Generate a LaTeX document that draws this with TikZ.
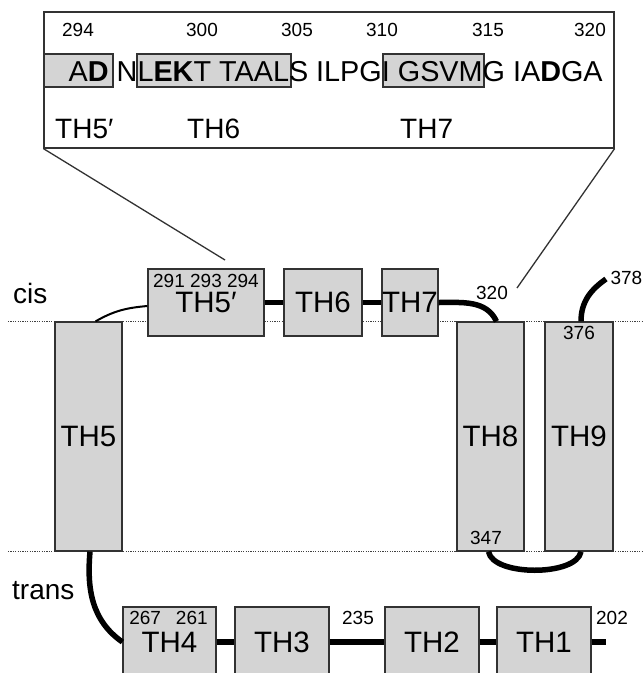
\documentclass[tikz,border=0pt]{standalone}
\usepackage{fontspec}
\setmainfont{Liberation Sans}
\usetikzlibrary{positioning}
\definecolor{tmgray}{RGB}{212,212,212}
\definecolor{tmline}{RGB}{50,50,50}
\newcommand{\thfont}{\fontsize{29.5}{32}\selectfont}
\newcommand{\lblfont}{\fontsize{28}{30}\selectfont}
\newcommand{\numfont}{\fontsize{19}{21}\selectfont}
\newcommand{\seqfont}{\fontsize{28.8}{31}\selectfont}
\begin{document}
\begin{tikzpicture}[x=1pt,y=-1pt,
tm/.style={draw=tmline,line width=1.2pt,fill=tmgray,inner sep=0pt,font=\thfont},
tmup/.style={tm,minimum width=67pt,minimum height=229pt},
tmcis/.style={tm,minimum height=67pt},
tmlo/.style={tm,minimum width=94pt,minimum height=70pt},
hl/.style={draw=tmline,line width=1.2pt,fill=tmgray},
numlbl/.style={inner sep=0pt,font=\numfont},
txtlbl/.style={anchor=base west,inner sep=0pt,font=\lblfont},
linker/.style={line width=5.5pt},
tether/.style={line width=2pt},
membrane/.style={black!75,line width=1pt,dash pattern=on 1.2pt off 1.2pt}]
\useasboundingbox (0,0) rectangle (643,673);

% membrane boundaries
\draw[membrane] (8,321.5) -- (643,321.5);
\draw[membrane] (8,551.5) -- (643,551.5);
\node[txtlbl] (cis) at (13,303) {cis};
\node[txtlbl] (trans) at (12,599) {trans};

% zoomed sequence
\node[draw=tmline,line width=1.2pt,minimum width=570pt,minimum height=136pt,inner sep=0pt] (zoombox) at (329,80) {};
\draw[hl] (44,54) rectangle (113,87);
\draw[hl] (137,54) rectangle (291,87);
\draw[hl] (383,54) rectangle (484,87);
\node[anchor=base west,inner sep=0pt,font=\seqfont] (seq) at (68.5,81.5)
  {A\textbf{D} NL\textbf{EK}T TAALS ILPGI GSVMG IA\textbf{D}GA};
\foreach \n/\x in {294/78,300/202,305/297,310/382,315/488,320/590}
  \node[numlbl] (res\n) at (\x,30) {\n};
\node[txtlbl] (z5p) at (55,138) {TH5′};
\node[txtlbl] (z6) at (187,138) {TH6};
\node[txtlbl] (z7) at (400,138) {TH7};

% helices
\node[tmup] (th5) at (88.5,436.5) {TH5};
\node[tmcis,minimum width=116pt] (th5p) at (206,302.5) {TH5′};
\node[tmcis,minimum width=78pt] (th6) at (323,302.5) {TH6};
\node[tmcis,minimum width=56pt] (th7) at (410,302.5) {TH7};
\node[tmup] (th8) at (490.5,436.5) {TH8};
\node[tmup,minimum width=68pt] (th9) at (579,436.5) {TH9};
\node[tmlo,minimum width=93pt] (th4) at (169.5,642) {TH4};
\node[tmlo] (th3) at (282,642) {TH3};
\node[tmlo] (th2) at (432,642) {TH2};
\node[tmlo] (th1) at (544,642) {TH1};

% residue numbers
\node[numlbl] (n291) at (206,281) {291 293 294};
\node[numlbl] (n320) at (492,293) {320};
\node[numlbl,anchor=east] (n378) at (642.5,278) {378};
\node[numlbl] (n376) at (579,333) {376};
\node[numlbl] (n347) at (486,538) {347};
\node[numlbl] (n267) at (168.5,618) {267\hspace{15pt}261};
\node[numlbl] (n235) at (358,618) {235};
\node[numlbl] (n202) at (612,618) {202};

% loops
\coordinate (end378) at (606,279);
\coordinate (end202) at (606,642);
\coordinate (pin1) at (225,260);
\coordinate (pin2) at (517,288);
\draw[line width=1.3pt,tmline] (zoombox.south west) -- (pin1);
\draw[line width=1.3pt,tmline] (zoombox.south east) -- (pin2);
\draw[tether] ([xshift=7pt]th5.north) to[out=30,in=185] ([yshift=-3.5pt]th5p.west);
\draw[linker] (th5p) -- (th6);
\draw[linker] (th6) -- (th7);
\draw[linker] (th7.east) to[out=0,in=115] ([xshift=6pt]th8.north);
\draw[linker] ([xshift=-2pt]th8.south) to[out=-80,in=-100,looseness=0.7] ([xshift=2pt]th9.south);
\draw[linker] ([xshift=2pt]th9.north) to[out=90,in=-145] (end378);
\draw[linker] ([xshift=1.5pt]th5.south) to[out=-95,in=145] (th4.west);
\draw[linker] (th4) -- (th3);
\draw[linker] (th3) -- (th2);
\draw[linker] (th2) -- (th1);
\draw[linker] (th1) -- (end202);
\end{tikzpicture}
\end{document}
